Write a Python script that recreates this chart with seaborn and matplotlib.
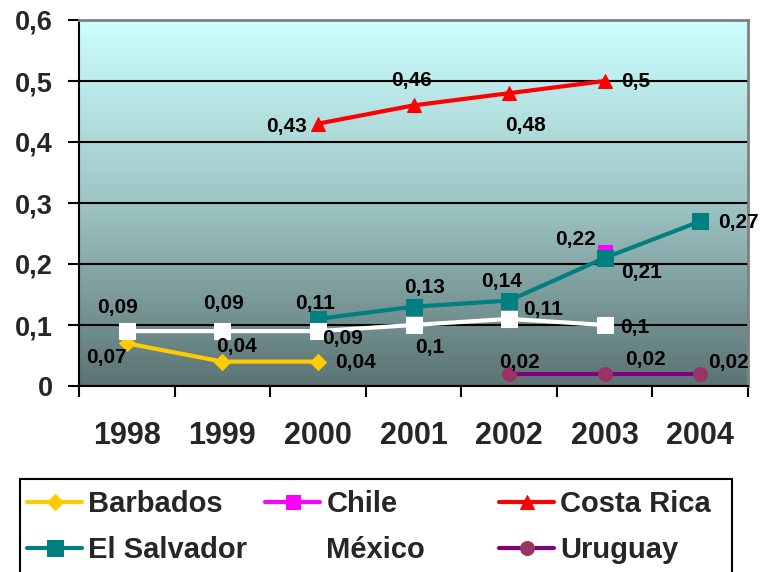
import numpy as np
import pandas as pd
import matplotlib
matplotlib.use("Agg")
import matplotlib.pyplot as plt
from matplotlib.colors import LinearSegmentedColormap
from matplotlib.patches import Rectangle
import seaborn as sns

years = ["1998", "1999", "2000", "2001", "2002", "2003", "2004"]
barbados = [0.07, 0.04, 0.04, None, None, None, None]
chile = [None, None, None, None, None, 0.22, None]
costa_rica = [None, None, 0.43, 0.46, 0.48, 0.5, None]
el_salvador = [None, None, 0.11, 0.13, 0.14, 0.21, 0.27]
mexico = [0.09, 0.09, 0.09, 0.1, 0.11, 0.1, None]
uruguay = [None, None, None, None, 0.02, 0.02, 0.02]
y_ticks = [0, 0.1, 0.2, 0.3, 0.4, 0.5, 0.6]

series = [
    ("Barbados", barbados, dict(color="#FFCC00", marker="D", mfc="#FFCC00", ms=8)),
    ("Chile", chile, dict(color="#FF00FF", marker="s", mfc="#FF00FF", ms=10)),
    ("Costa Rica", costa_rica, dict(color="#FF0000", marker="^", mfc="#FF0000", ms=10)),
    ("El Salvador", el_salvador, dict(color="#008080", marker="s", mfc="#008080", ms=11)),
    ("México", mexico, dict(color="#FFFFFF", marker="s", mfc="#FFFFFF", ms=11)),
    ("Uruguay", uruguay, dict(color="#800080", marker="o", mfc="#993366", ms=10)),
]

# label offsets in pixels (dx, dy) per series, per year index
offsets = {
    "Barbados": {0: (-20, -14), 1: (14, 15), 2: (38, -1)},
    "Chile": {5: (-29, 12)},
    "Costa Rica": {2: (-31, -3), 3: (-2, 25), 4: (16, -32), 5: (31, -1)},
    "El Salvador": {2: (-3, 15), 3: (11, 19), 4: (-8, 19), 5: (37, -15), 6: (38, -1)},
    "México": {0: (-9, 24), 1: (1, 28), 2: (25, -7), 3: (16, -22), 4: (34, 9), 5: (30, -2)},
    "Uruguay": {4: (10, 11), 5: (41, 14), 6: (28, 11)},
}

sns.set_theme(style="white")
plt.rcParams["font.family"] = ["Liberation Sans", "DejaVu Sans"]
plt.rcParams["font.weight"] = "bold"

W, H = 762, 572
fig = plt.figure(figsize=(W / 100, H / 100), dpi=100)
L, R, T, B = 79 / W, 748 / W, 20 / H, 386 / H
ax = fig.add_axes([L, 1 - B, R - L, B - T])

# gradient background
cmap = LinearSegmentedColormap.from_list("bg", ["#5B7373", "#9EC4C4", "#CCFFFF"])
grad = np.linspace(0, 1, 256).reshape(-1, 1)
ax.imshow(grad, cmap=cmap, aspect="auto", extent=[0, 1, 0, 1],
          transform=ax.transAxes, origin="lower", zorder=-5)

handles = {}
for name, vals, st in series:
    df = pd.DataFrame({"x": np.arange(len(years)), "y": vals}).dropna()
    sns.lineplot(data=df, x="x", y="y", ax=ax, color=st["color"], lw=3,
                 marker=st["marker"], markersize=st["ms"],
                 markerfacecolor=st["mfc"], markeredgecolor=st["mfc"],
                 label=name, legend=False, zorder=3)
    handles[name] = ax.lines[-1]
    for i, v in enumerate(vals):
        if v is None:
            continue
        dx, dy = offsets[name][i]
        ax.annotate(f"{v:g}".replace(".", ","), (i, v), xytext=(dx, dy),
                    textcoords="offset pixels", ha="center", va="center",
                    fontsize=15, fontweight="bold", color="black", zorder=5)

ax.set_xlim(-0.5, len(years) - 0.5)
ax.set_ylim(0, 0.6)
ax.set_yticks(y_ticks)
ax.set_yticklabels([f"{t:g}".replace(".", ",") for t in y_ticks],
                   fontsize=19.5, fontweight="bold")
ax.set_xticks(np.arange(-0.5, len(years)), minor=False)
ax.set_xticklabels([])
ax.set_xticks(np.arange(len(years)), minor=True)
ax.set_xticklabels(years, minor=True, fontsize=22, fontweight="bold")
ax.tick_params(axis="x", which="major", direction="out", length=8, width=1.5,
               color="black", bottom=True)
ax.tick_params(axis="x", which="minor", length=0, pad=25)
ax.tick_params(axis="y", direction="out", length=8, width=1.5, color="black",
               left=True, pad=11)
ax.set_xlabel("")
ax.set_ylabel("")
ax.grid(axis="y", color="black", lw=1.5, zorder=1)
ax.grid(axis="x", visible=False)
for s in ["left", "bottom"]:
    ax.spines[s].set_color("black")
    ax.spines[s].set_linewidth(1.5)
for s in ["top", "right"]:
    ax.spines[s].set_color("#808080")
    ax.spines[s].set_linewidth(2)

# legend: frame + three single-column legends
fig.patches.append(Rectangle((20 / W, -0.05), (732 - 20) / W, 1 - 479 / H + 0.05,
                             transform=fig.transFigure, fill=False,
                             edgecolor="black", lw=1.5, zorder=10))
columns = [(["Barbados", "El Salvador"], 27), (["Chile", "México"], 265),
           (["Costa Rica", "Uruguay"], 499)]
for names, x0 in columns:
    lg = fig.legend([handles[n] for n in names], names, ncol=1, loc="upper left",
                    bbox_to_anchor=(x0 / W, 1 - 490 / H), borderaxespad=0,
                    borderpad=0.0, frameon=False,
                    prop={"weight": "bold", "size": 21}, handlelength=1.9,
                    handletextpad=0.2, labelspacing=0.62)

fig.savefig("out.png", dpi=100)
